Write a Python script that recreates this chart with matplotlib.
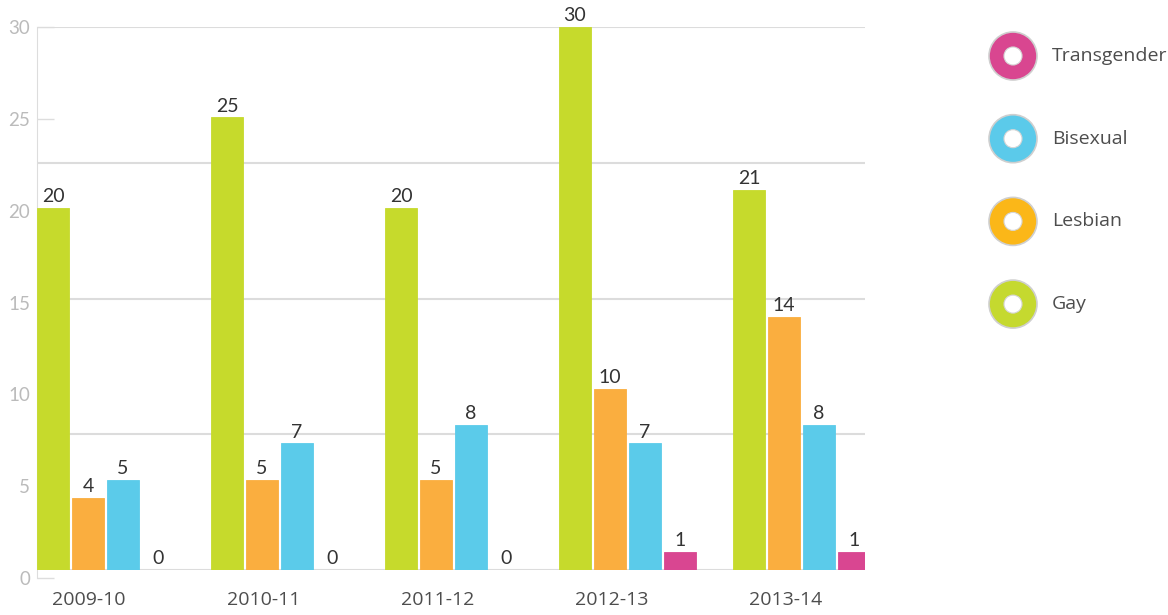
import numpy as np
import matplotlib.pyplot as plt
from matplotlib.patches import Circle

# data
years = ['2009-10', '2010-11', '2011-12', '2012-13', '2013-14']
gay = [20, 25, 20, 30, 21]
lesbian = [4, 5, 5, 10, 14]
bisexual = [5, 7, 8, 7, 8]
transgender = [0, 0, 0, 1, 1]

series = [
    ('Gay', gay, '#C6DA2C'),
    ('Lesbian', lesbian, '#FAAE3F'),
    ('Bisexual', bisexual, '#5BCBEA'),
    ('Transgender', transgender, '#D94691'),
]
legend_colors = {'Transgender': '#D94690', 'Bisexual': '#5BCAEA',
                 'Lesbian': '#FBB718', 'Gay': '#C5D92F'}

W, H = 1168, 615
fig = plt.figure(figsize=(W / 100, H / 100), dpi=100)


def px_axes(left, top, right, bottom, **kw):
    return fig.add_axes([left / W, 1 - bottom / H, (right - left) / W, (bottom - top) / H], **kw)


# axis that carries the y tick labels (slightly offset from the bar scale, as in the original)
ax_t = px_axes(37, 27, 865, 578, zorder=0)
ax_t.patch.set_visible(False)
ax_t.set_ylim(0, 30)
ax_t.set_yticks(range(0, 31, 5))
ax_t.set_xticks([])
for s in ['top', 'right', 'bottom']:
    ax_t.spines[s].set_visible(False)
ax_t.spines['left'].set_color('#dddddd')
ax_t.tick_params(axis='y', direction='in', length=12, width=1, color='#dddddd',
                 labelcolor='#bbbbbb', labelsize=13.5, pad=5)
for lab in ax_t.get_yticklabels():
    lab.set_fontfamily('Lato')

# main bar axis
ax = px_axes(37, 27, 865, 570, zorder=1)
ax.patch.set_visible(False)
group = 174.0
step = 35 / group
width = 32 / group
x = np.arange(len(years))

for k, (name, vals, col) in enumerate(series):
    bars = ax.bar(x + k * step, vals, width=width, align='edge', color=col,
                  edgecolor=col, linewidth=0.6, zorder=3)
    ax.bar_label(bars, padding=2, fontsize=14, color='#333333', family='Lato')

ax.set_xlim(0, 828 / group)
ax.set_ylim(0, 30)
ax.set_yticks([0, 7.5, 15, 22.5, 30])
ax.yaxis.grid(True, color='#dcdcdc', linewidth=1.5)
ax.set_axisbelow(True)
ax.tick_params(axis='y', length=0, labelleft=False)
for s in ax.spines.values():
    s.set_visible(False)
ax.set_xticks(x + 0.3, years)
ax.tick_params(axis='x', length=0, pad=15, labelsize=14, labelcolor='#4d4d4d')
for lab in ax.get_xticklabels():
    lab.set_fontfamily('Open Sans')

# donut legend
lg = fig.add_axes([0, 0, 1, 1], zorder=2)
lg.set_xlim(0, W)
lg.set_ylim(H, 0)
lg.axis('off')
for i, name in enumerate(['Transgender', 'Bisexual', 'Lesbian', 'Gay']):
    cy = 56 + i * 82.7
    lg.add_patch(Circle((1013, cy), 24, facecolor=legend_colors[name],
                        edgecolor='#cfcfcf', linewidth=1.2))
    lg.add_patch(Circle((1013, cy), 9, facecolor='white', edgecolor='#d5d5d5', linewidth=0.8))
    lg.text(1052, cy, name, fontsize=14, color='#4d4d4d', va='center', ha='left',
            family='Open Sans')

fig.savefig('out.png', dpi=100)
